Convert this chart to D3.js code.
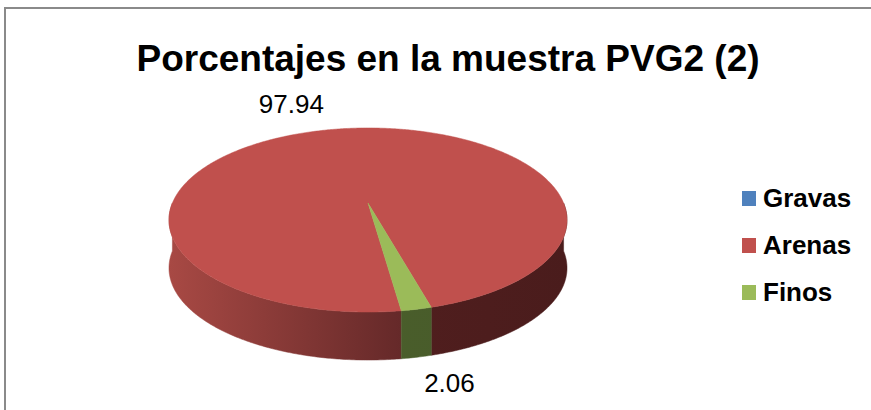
<!DOCTYPE html>
<html>
<head>
<meta charset="utf-8">
<script src="https://cdn.jsdelivr.net/npm/d3@7.9.0/dist/d3.min.js"></script>
<style>
  html, body { margin: 0; padding: 0; background: #fff; }
  svg { display: block; font-family: "Liberation Sans", Arial, sans-serif; }
</style>
</head>
<body>
<script>
// data
const categories = ["Gravas", "Arenas", "Finos"];
const values = [0, 97.94, 2.06];
const colors = ["#4F81BD", "#C0504D", "#9BBB59"];
const sideColors = [
  ["#3A5F8C", "#24405F"],
  ["#A84944", "#652929", "#501E1E", "#4A1C1C"],
  ["#4E632C", "#46592A"]
];
const titleText = "Porcentajes en la muestra PVG2 (2)";

const width = 871, height = 410;
const svg = d3.select("body").append("svg").attr("width", width).attr("height", height);

// chart frame
svg.append("rect")
  .attr("x", 5).attr("y", 8)
  .attr("width", width + 20).attr("height", height + 20)
  .attr("fill", "#fff").attr("stroke", "#8A8A8A").attr("stroke-width", 2);

// title
svg.append("text")
  .attr("x", 448).attr("y", 71)
  .attr("text-anchor", "middle")
  .style("font-size", "37px").style("font-weight", "bold")
  .text(titleText);

// 3d pie geometry (simple perspective on a tilted disk)
const cx = 368, cy = 203, A = 195.6, B = 88.9, k = 0.1847, depth = 48;
const rot = 172 * Math.PI / 180;

function proj(t, dy = 0, r = 1) {
  const u = Math.sin(t) * r, v = -Math.cos(t) * r;
  const w = 1 - k * v;
  return [cx + A * u / w, cy + B * v / w + dy];
}

const pie = d3.pie().sort(null).startAngle(rot).endAngle(rot + 2 * Math.PI);
const arcs = pie(values);

function rimPts(a0, a1, dy) {
  const n = Math.max(2, Math.ceil(Math.abs(a1 - a0) / 0.01));
  return d3.range(n + 1).map(i => proj(a0 + (a1 - a0) * i / n, dy));
}

const defs = svg.append("defs");
sideColors.forEach((cs, i) => {
  const g = defs.append("linearGradient")
    .attr("id", "side" + i)
    .attr("gradientUnits", "userSpaceOnUse")
    .attr("x1", cx - A * 1.02).attr("x2", cx + A * 1.02)
    .attr("y1", 0).attr("y2", 0);
  if (cs.length === 4) {
    g.append("stop").attr("offset", 0).attr("stop-color", cs[0]);
    g.append("stop").attr("offset", 0.585).attr("stop-color", cs[1]);
    g.append("stop").attr("offset", 0.6).attr("stop-color", cs[2]);
    g.append("stop").attr("offset", 1).attr("stop-color", cs[3]);
  } else {
    g.append("stop").attr("offset", 0).attr("stop-color", cs[0]);
    g.append("stop").attr("offset", 1).attr("stop-color", cs[1]);
  }
});

const line = d3.line();
const front = [Math.PI / 2, 3 * Math.PI / 2];

// side walls (front half only)
const sideG = svg.append("g");
arcs.forEach((d, i) => {
  if (d.endAngle - d.startAngle <= 0) return;
  [0, 2 * Math.PI].forEach(off => {
    const a0 = Math.max(d.startAngle, front[0] + off);
    const a1 = Math.min(d.endAngle, front[1] + off);
    if (a1 <= a0) return;
    const pts = rimPts(a0, a1, 0).concat(rimPts(a1, a0, depth));
    sideG.append("path")
      .attr("d", line(pts) + "Z")
      .attr("fill", `url(#side${i})`)
      .attr("stroke", `url(#side${i})`).attr("stroke-width", 0.5);
  });
});

// top face
const topG = svg.append("g");
arcs.forEach((d, i) => {
  if (d.endAngle - d.startAngle <= 0) return;
  const pts = [[cx, cy]].concat(rimPts(d.startAngle, d.endAngle, 0));
  topG.append("path")
    .attr("d", line(pts) + "Z")
    .attr("fill", colors[i])
    .attr("stroke", colors[i]).attr("stroke-width", 0.5);
});

// data labels
const labelOffsets = [[0, 0], [-43, -16], [33, 35]];
arcs.forEach((d, i) => {
  if (values[i] <= 0) return;
  const mid = (d.startAngle + d.endAngle) / 2;
  const front3d = -Math.cos(mid) > 0;
  const p = proj(mid, front3d ? depth : 0);
  svg.append("text")
    .attr("x", p[0] + labelOffsets[i][0])
    .attr("y", p[1] + labelOffsets[i][1])
    .attr("text-anchor", "middle")
    .style("font-size", "26px")
    .text(values[i].toFixed(2));
});

// legend
const legend = svg.append("g").attr("transform", "translate(742,191)");
categories.forEach((c, i) => {
  const row = legend.append("g").attr("transform", `translate(0,${i * 47})`);
  row.append("rect").attr("width", 14).attr("height", 15).attr("fill", colors[i]);
  row.append("text")
    .attr("x", 21).attr("y", 16)
    .style("font-size", "26px").style("font-weight", "bold")
    .text(c);
});
</script>
</body>
</html>
